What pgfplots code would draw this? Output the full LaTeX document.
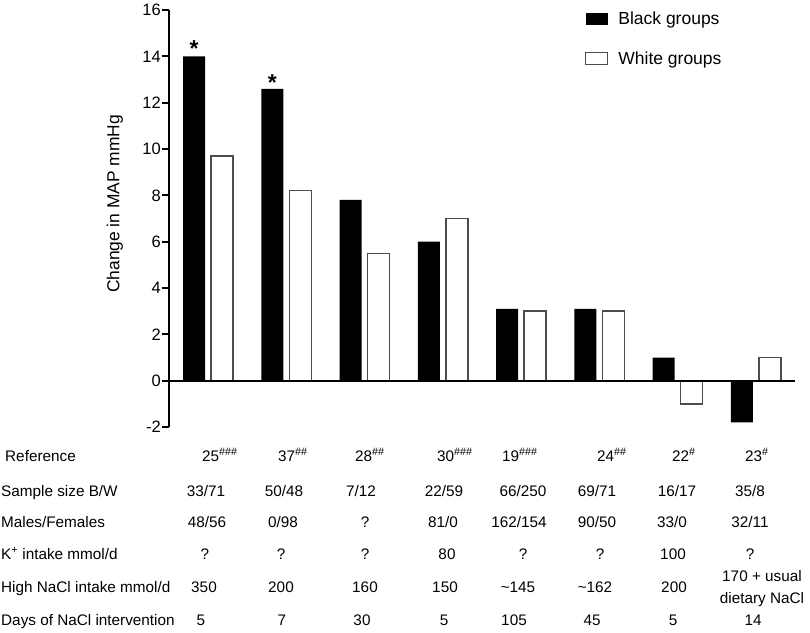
\documentclass[border=0pt]{standalone}
\usepackage{pgfplots}
\pgfplotsset{compat=1.18}
\usepackage{fontspec}
\setmainfont{Liberation Sans}
\newcommand\tf{\fontsize{15.3}{18}\selectfont}
\begin{document}
\begin{tikzpicture}[x=1pt,y=1pt]
\path[use as bounding box] (0,0) rectangle (810,-632);
\begin{axis}[
  at={(169pt,-427pt)}, anchor=south west,
  scale only axis, width=626pt, height=417pt,
  xmin=0.5, xmax=8.5, ymin=-2, ymax=16,
  enlargelimits=false,
  axis y line*=left, axis x line*=middle,
  xtick=\empty, ytick={-2,0,...,16},
  axis line style={line width=2pt, black},
  y tick style={line width=2pt, black},
  major tick length=7pt, tick align=outside,
  /pgf/number format/assume math mode=true,
  yticklabel style={font=\fontsize{16.5}{19}\selectfont, inner sep=0pt, xshift=-1pt},
  ylabel={Change in MAP mmHg},
  ylabel style={at={(axis description cs:-0.0863,0.535)}, anchor=center, font=\fontsize{17.4}{20}\selectfont},
  clip=false, axis on top,
  ybar, bar width=22pt,
  legend style={at={(axis description cs:0.664,1.0)}, anchor=north west, yshift=-2pt, draw=none, fill=none,
    font=\fontsize{17.5}{21}\selectfont, row sep=25pt, column sep=10pt, inner sep=0pt,
    nodes={inner sep=0pt}, cells={anchor=west}},
]
\addplot[ybar, bar shift=-14pt, fill=black, draw=none,
  legend image code/.code={\fill[black] (0pt,-6pt) rectangle (22pt,6pt);}]
  coordinates {(1,14) (2,12.6) (3,7.8) (4,6.0) (5,3.1) (6,3.1) (7,1.0) (8,-1.8)};
\addlegendentry{Black groups}
\addplot[ybar, bar shift=14pt, fill=white, draw=black!70, line width=1.5pt,
  legend image code/.code={\draw[black!70, line width=1.5pt, fill=white] (0pt,-6pt) rectangle (22pt,6pt);}]
  coordinates {(1,9.7) (2,8.2) (3,5.5) (4,7.0) (5,3.0) (6,3.0) (7,-1.0) (8,1.0)};
\addlegendentry{White groups}
\node[anchor=base, inner sep=0pt, font=\fontsize{23}{23}\selectfont\bfseries, xshift=-14pt, yshift=0pt] at (axis cs:1,14) {*};
\node[anchor=base, inner sep=0pt, font=\fontsize{23}{23}\selectfont\bfseries, xshift=-14pt, yshift=-2pt] at (axis cs:2,12.6) {*};
\end{axis}
% table below the chart
\begin{scope}[every node/.style={font=\tf, inner sep=0pt}]
\node[anchor=base west] at (5,-461) {Reference};
\node[anchor=base west] at (1,-496) {Sample size B/W};
\node[anchor=base west] at (1,-527) {Males/Females};
\node[anchor=base west] at (1,-559) {K\textsuperscript{+} intake mmol/d};
\node[anchor=base west] at (1,-592) {High NaCl intake mmol/d};
\node[anchor=base west] at (1,-625) {Days of NaCl intervention};
% Reference row
\node[anchor=base west] at (202,-461) {25\textsuperscript{\#\#\#}};
\node[anchor=base west] at (278,-461) {37\textsuperscript{\#\#}};
\node[anchor=base west] at (355,-461) {28\textsuperscript{\#\#}};
\node[anchor=base west] at (437,-461) {30\textsuperscript{\#\#\#}};
\node[anchor=base west] at (502,-461) {19\textsuperscript{\#\#\#}};
\node[anchor=base west] at (597,-461) {24\textsuperscript{\#\#}};
\node[anchor=base west] at (672,-461) {22\textsuperscript{\#}};
\node[anchor=base west] at (745,-461) {23\textsuperscript{\#}};
% Sample size
\node[anchor=base] at (206,-496) {33/71};
\node[anchor=base] at (284,-496) {50/48};
\node[anchor=base] at (361,-496) {7/12};
\node[anchor=base] at (444,-496) {22/59};
\node[anchor=base] at (523,-496) {66/250};
\node[anchor=base] at (597,-496) {69/71};
\node[anchor=base] at (677,-496) {16/17};
\node[anchor=base] at (750,-496) {35/8};
% Males/Females
\node[anchor=base] at (207,-527) {48/56};
\node[anchor=base] at (283,-527) {0/98};
\node[anchor=base] at (365,-527) {?};
\node[anchor=base] at (443,-527) {81/0};
\node[anchor=base] at (519,-527) {162/154};
\node[anchor=base] at (597,-527) {90/50};
\node[anchor=base] at (672,-527) {33/0};
\node[anchor=base] at (750,-527) {32/11};
% K+ intake
\node[anchor=base] at (205,-559) {?};
\node[anchor=base] at (281,-559) {?};
\node[anchor=base] at (365,-559) {?};
\node[anchor=base] at (447,-559) {80};
\node[anchor=base] at (523,-559) {?};
\node[anchor=base] at (600,-559) {?};
\node[anchor=base] at (673,-559) {100};
\node[anchor=base] at (750,-559) {?};
% High NaCl
\node[anchor=base] at (204,-592) {350};
\node[anchor=base] at (281,-592) {200};
\node[anchor=base] at (365,-592) {160};
\node[anchor=base] at (445,-592) {150};
\node[anchor=base] at (518,-592) {\textasciitilde 145};
\node[anchor=base] at (595,-592) {\textasciitilde 162};
\node[anchor=base] at (674,-592) {200};
\node[anchor=base] at (762,-581) {170 + usual};
\node[anchor=base] at (762,-603) {dietary NaCl};
% Days
\node[anchor=base] at (201,-625) {5};
\node[anchor=base] at (282,-625) {7};
\node[anchor=base] at (362,-625) {30};
\node[anchor=base] at (444,-625) {5};
\node[anchor=base] at (514,-625) {105};
\node[anchor=base] at (592,-625) {45};
\node[anchor=base] at (673,-625) {5};
\node[anchor=base] at (753,-625) {14};
\end{scope}
\end{tikzpicture}
\end{document}
